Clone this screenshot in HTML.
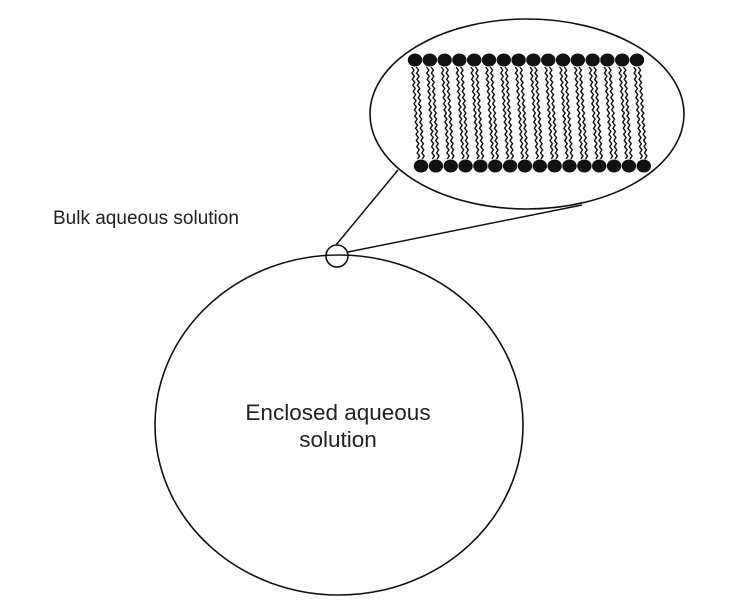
<!DOCTYPE html>
<html><head><meta charset="utf-8"><style>
html,body{margin:0;padding:0;background:#fff;}
svg{display:block;}
text{font-family:"Liberation Sans",sans-serif;fill:#222;}
</style></head><body>
<svg id="s" width="750" height="600" viewBox="0 0 750 600">
<ellipse cx="339" cy="425" rx="184" ry="170" fill="none" stroke="#111" stroke-width="1.6"/>
<ellipse cx="527" cy="114" rx="157" ry="95" fill="none" stroke="#111" stroke-width="1.6"/>
<circle cx="337" cy="256" r="11" fill="none" stroke="#111" stroke-width="1.6"/>
<line x1="336" y1="245" x2="398" y2="170" stroke="#111" stroke-width="1.5"/>
<line x1="348" y1="252" x2="582" y2="205" stroke="#111" stroke-width="1.5"/>
<text x="53" y="224" font-size="19">Bulk aqueous solution</text>
<text x="338" y="420" font-size="22.5" text-anchor="middle">Enclosed aqueous</text>
<text x="338" y="447" font-size="22.5" text-anchor="middle">solution</text>
<g id="lip"></g>
</svg>
<script>
var g=document.getElementById('lip'),h='';
for(var i=0;i<16;i++){
 var xt=415+i*14.8, xb=421+i*14.85;
 h+='<ellipse cx="'+xt+'" cy="60" rx="7.2" ry="6.5" fill="#111"/>';
 h+='<ellipse cx="'+xb+'" cy="166" rx="7.2" ry="6.5" fill="#111"/>';
 [-2.3,2.3].forEach(function(o){
  var p='';
  for(var k=0;k<=30;k++){var t=k/30,y=67+t*92,x=xt+(xb-xt)*t+o+(k%2?1.1:-1.1);p+=x.toFixed(1)+','+y.toFixed(1)+' ';}
  h+='<polyline points="'+p+'" fill="none" stroke="#111" stroke-width="1.4"/>';
 });
}
g.innerHTML=h;
</script>
</body></html>
